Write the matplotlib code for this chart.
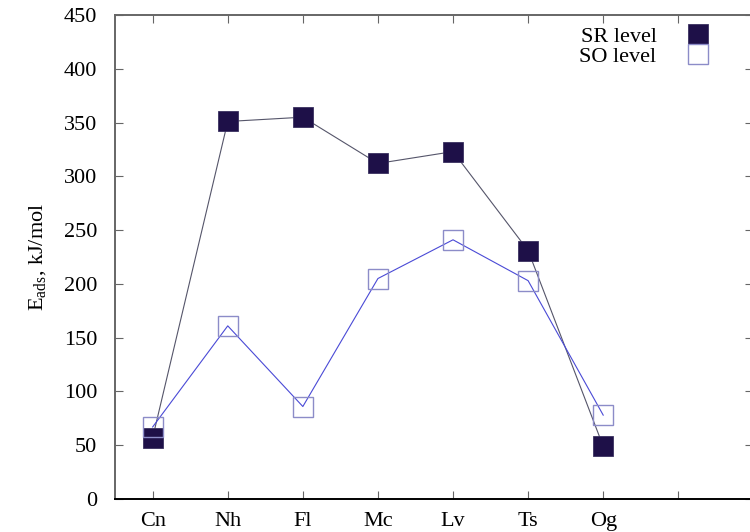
import matplotlib
matplotlib.use('Agg')
import matplotlib.pyplot as plt
import numpy as np

plt.rcParams.update({
    'font.family': 'serif',
    'font.serif': ['Liberation Serif', 'DejaVu Serif'],
    'mathtext.fontset': 'custom',
    'mathtext.rm': 'Liberation Serif',
    'mathtext.it': 'Liberation Serif:italic',
})

elements = ['Cn', 'Nh', 'Fl', 'Mc', 'Lv', 'Ts', 'Og']
sr_level = [57, 351, 355, 312, 323, 231, 49]
so_level = [67, 161, 86, 205, 241, 203, 78]

DARK = '#1e1048'
SO_LINE = '#4a4ad6'
SO_EDGE = '#8c8cc8'
FS = 16

fig = plt.figure(figsize=(7.5, 5.32), dpi=100)
ax = fig.add_axes([0.1535, 0.062, 0.851, 0.9098])

x = np.arange(1, len(elements) + 1)

ax.plot(x, sr_level, color='#55556a', linewidth=0.8, zorder=2)
ax.plot(x, sr_level, linestyle='none', marker='s', markersize=14.6,
        markerfacecolor=DARK, markeredgecolor='#3a3060', markeredgewidth=0.6,
        label='SR level', zorder=3)
ax.plot(x, so_level, color=SO_LINE, linewidth=0.8, zorder=4)
ax.plot(x, so_level, linestyle='none', marker='s', markersize=14.6,
        markerfacecolor='none', markeredgecolor=SO_EDGE, markeredgewidth=1.0,
        label='SO level', zorder=5)

ax.set_xlim(0.5, 9.0)
ax.set_ylim(0, 450)
ax.set_xticks(list(x) + [8])
ax.set_xticklabels(elements + [''])
ax.set_yticks(np.arange(0, 451, 50))

ax.tick_params(direction='in', length=5.5, width=0.8, color='#666666',
               top=True, right=True, labelsize=FS)
ax.tick_params(axis='y', pad=13)
ax.tick_params(axis='x', pad=9)

for side in ['left', 'top', 'right']:
    ax.spines[side].set_color('#666666')
    ax.spines[side].set_linewidth(1.4)
ax.spines['bottom'].set_color('black')
ax.spines['bottom'].set_linewidth(1.4)

ax.set_ylabel(r'E$_{\rm ads}$, kJ/mol', fontsize=FS, labelpad=11)

leg = ax.legend(loc='upper left', bbox_to_anchor=(0.71, 1.0), frameon=False,
                fontsize=FS, markerfirst=False, handlelength=1.2,
                handletextpad=1.27, labelspacing=-0.02, borderaxespad=0.1)
for t in leg.get_texts():
    t.set_ha('right')

fig.savefig('out.png', dpi=100)
